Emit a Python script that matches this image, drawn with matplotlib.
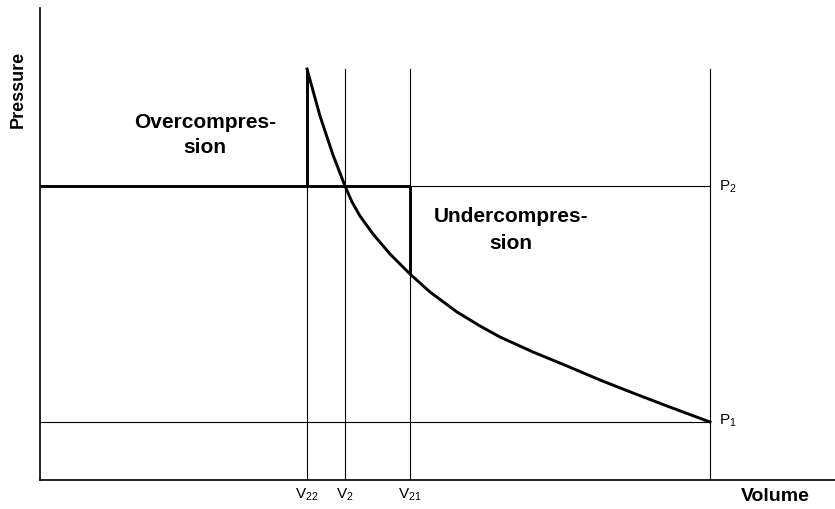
import numpy as np
import matplotlib.pyplot as plt

plt.rcParams['font.family'] = ['Liberation Sans', 'DejaVu Sans']
plt.rcParams['mathtext.fontset'] = 'custom'
plt.rcParams['mathtext.rm'] = 'Liberation Sans'
plt.rcParams['mathtext.default'] = 'regular'

# volumes and pressures (arbitrary units)
v22, v2, v21, v1 = 267, 305, 370, 670
p1, p2, pmax = 58, 294, 411
vol_labels = [r'$V_{22}$', r'$V_{2}$', r'$V_{21}$']

# compression curve
curve_v = [267, 280, 293, 305, 312, 320, 333, 350, 370, 390, 417, 440,
           460, 493, 527, 560, 593, 627, 670]
curve_p = [411, 364, 325, 294, 278, 264, 246, 226, 206, 188, 168, 154,
           143, 128, 114, 100, 87, 74, 58]

fig = plt.figure(figsize=(8.35, 5.1), dpi=100)
ax = fig.add_axes([40/835, 29/510, 795/835, 472/510])
ax.set_xlim(0, 795)
ax.set_ylim(0, 472)

thin = dict(color='black', lw=0.8)
thick = dict(color='black', lw=2.1, solid_capstyle='butt')

# thin reference lines
for v in [v22, v2, v21, v1]:
    ax.plot([v, v], [0, pmax], **thin)
ax.plot([0, v1], [p2, p2], **thin)
ax.plot([0, v1], [p1, p1], **thin)

# thick cycle lines
ax.plot([0, v21], [p2, p2], **thick)
ax.plot([v22, v22], [p2, pmax], **thick)
ax.plot([v21, v21], [p2, curve_p[curve_v.index(v21)]], **thick)
ax.plot(curve_v, curve_p, color='black', lw=2.1, solid_joinstyle='round')

for s in ['top', 'right']:
    ax.spines[s].set_visible(False)
for s in ['left', 'bottom']:
    ax.spines[s].set_linewidth(1.2)
ax.set_xticks([])
ax.set_yticks([])

for v, lab in zip([v22, v2, v21], vol_labels):
    ax.text(v, -6, lab, ha='center', va='top', fontsize=11)
ax.text(v1 + 9, p2, r'$P_{2}$', ha='left', va='center', fontsize=11)
ax.text(v1 + 9, p1 + 2, r'$P_{1}$', ha='left', va='center', fontsize=11)

ax.text(165, 346, 'Overcompres-\nsion', ha='center', va='center',
        fontsize=15, fontweight='bold', linespacing=1.45)
ax.text(471, 251, 'Undercompres-\nsion', ha='center', va='center',
        fontsize=15, fontweight='bold', linespacing=1.55)

fig.text(18/835, 1 - 89/510, 'Pressure', rotation=90, ha='center',
         va='center', fontsize=13, fontweight='bold')
fig.text(775/835, 1 - 497/510, 'Volume', ha='center', va='center',
         fontsize=14, fontweight='bold')

fig.savefig('out.png', dpi=100)
